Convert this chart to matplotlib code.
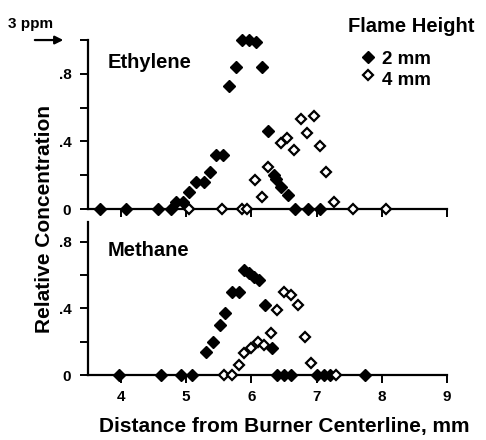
import numpy as np
import matplotlib
matplotlib.use("Agg")
import matplotlib.pyplot as plt

plt.rcParams['font.family'] = ['Liberation Sans', 'DejaVu Sans']

# Ethylene, 2 mm flame height (filled)
eth_2mm_x = [3.68, 4.09, 4.58, 4.77, 4.85, 4.95, 5.05, 5.16, 5.27, 5.37, 5.46, 5.57,
             5.66, 5.77, 5.86, 5.96, 6.08, 6.16, 6.26, 6.35, 6.38, 6.45, 6.56,
             6.67, 6.87, 7.06]
eth_2mm_y = [0, 0, 0, 0, 0.04, 0.04, 0.10, 0.16, 0.16, 0.22, 0.32, 0.32,
             0.73, 0.84, 1.0, 1.0, 0.99, 0.84, 0.46, 0.20, 0.18, 0.13, 0.08,
             0, 0, 0]
# Ethylene, 4 mm flame height (open)
eth_4mm_x = [5.05, 5.55, 5.86, 5.94, 6.06, 6.16, 6.26, 6.45, 6.55, 6.66, 6.76,
             6.86, 6.96, 7.06, 7.15, 7.27, 7.56, 8.06]
eth_4mm_y = [0, 0, 0, 0, 0.17, 0.07, 0.25, 0.39, 0.42, 0.35, 0.53,
             0.45, 0.55, 0.37, 0.22, 0.04, 0, 0]

# Methane, 2 mm
met_2mm_x = [3.98, 4.62, 4.93, 5.10, 5.31, 5.41, 5.52, 5.60, 5.71, 5.82, 5.89,
             5.97, 6.05, 6.12, 6.21, 6.32, 6.40, 6.50, 6.61, 7.01, 7.11, 7.20,
             7.75]
met_2mm_y = [0, 0, 0, 0, 0.14, 0.20, 0.30, 0.37, 0.50, 0.50, 0.63,
             0.61, 0.59, 0.57, 0.42, 0.16, 0, 0, 0, 0, 0, 0,
             0]
# Methane, 4 mm
met_4mm_x = [5.59, 5.71, 5.81, 5.89, 6.00, 6.10, 6.20, 6.30, 6.40, 6.50, 6.61,
             6.71, 6.82, 6.91, 7.30]
met_4mm_y = [0, 0, 0.06, 0.13, 0.16, 0.20, 0.18, 0.25, 0.39, 0.50, 0.48,
             0.42, 0.23, 0.07, 0]

x_ticks = [4, 5, 6, 7, 8, 9]
y_ticks = [0, 0.2, 0.4, 0.6, 0.8, 1.0]
y_labels = ['0', '', '.4', '', '.8', '']

fig = plt.figure(figsize=(4.86, 4.4), dpi=100)
ax1 = fig.add_axes([0.181, 0.525, 0.739, 0.384])
ax2 = fig.add_axes([0.181, 0.1477, 0.739, 0.348])

fs = 14.5
tfs = 11


def style(ax, top):
    ax.set_xlim(3.5, 9)
    ax.spines['top'].set_visible(False)
    ax.spines['right'].set_visible(False)
    ax.spines['left'].set_linewidth(1.6)
    ax.spines['bottom'].set_linewidth(1.6)
    ax.set_xticks(x_ticks)
    ax.tick_params(axis='both', direction='out', length=6, width=1.4,
                   labelsize=tfs)
    ax.tick_params(axis='x', pad=5)
    ax.tick_params(axis='y', pad=6)
    n = 6 if top else 5
    ax.set_yticks(y_ticks[:n])
    ax.set_yticklabels(y_labels[:n], fontweight='bold')
    if top:
        ax.set_ylim(0, 1.0)
        ax.set_xticklabels([])
    else:
        ax.set_ylim(0, 0.92)
        ax.set_xticklabels([str(t) for t in x_ticks], fontweight='bold')


def draw(ax, x2, y2, x4, y4):
    ax.plot(x2, y2, 'D', color='black', markersize=6, clip_on=False, zorder=3)
    ax.plot(x4, y4, 'D', markerfacecolor='white', markeredgecolor='black',
            markeredgewidth=1.6, markersize=5, clip_on=False, zorder=4)


style(ax1, True)
style(ax2, False)
draw(ax1, eth_2mm_x, eth_2mm_y, eth_4mm_x, eth_4mm_y)
draw(ax2, met_2mm_x, met_2mm_y, met_4mm_x, met_4mm_y)

ax1.text(3.80, 0.87, 'Ethylene', fontsize=fs, fontweight='bold', va='center')
ax2.text(3.80, 0.75, 'Methane', fontsize=fs, fontweight='bold', va='center')

fig.text(0.584, 0.03, 'Distance from Burner Centerline, mm', fontsize=15,
         fontweight='bold', ha='center', va='center')
fig.text(0.092, 0.502, 'Relative Concentration', rotation=90, fontsize=15,
         fontweight='bold', ha='center', va='center')

# 3 ppm arrow at the top of the ethylene axis
fig.text(0.016, 0.945, '3 ppm', fontsize=11, fontweight='bold', va='center')
ax1.annotate('', xy=(0.136, 0.909), xytext=(0.066, 0.909),
             xycoords='figure fraction', textcoords='figure fraction',
             arrowprops=dict(arrowstyle='-|>', color='black', lw=1.6,
                             mutation_scale=12),
             annotation_clip=False)

# legend
fig.text(0.716, 0.939, 'Flame Height', fontsize=fs, fontweight='bold',
         va='center')
ax1.plot([0.757], [0.870], 'D', color='black', markersize=6,
         transform=fig.transFigure, clip_on=False)
fig.text(0.786, 0.864, '2 mm', fontsize=13.5, fontweight='bold', va='center')
ax1.plot([0.757], [0.830], 'D', markerfacecolor='white', markeredgecolor='black',
         markeredgewidth=1.6, markersize=5, transform=fig.transFigure,
         clip_on=False)
fig.text(0.786, 0.818, '4 mm', fontsize=13.5, fontweight='bold', va='center')

fig.savefig('out.png', dpi=100)
